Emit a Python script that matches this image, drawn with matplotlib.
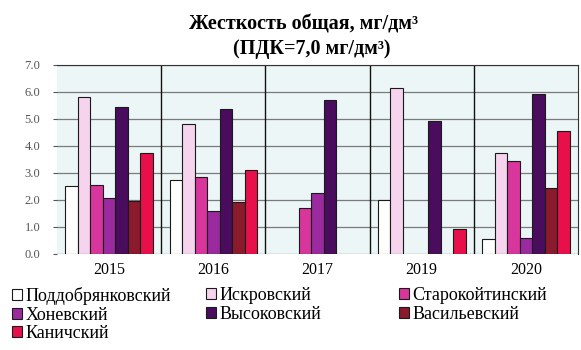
import numpy as np
import matplotlib.pyplot as plt

plt.rcParams['font.family'] = ['Liberation Serif', 'DejaVu Serif']

years = ['2015', '2016', '2017', '2019', '2020']
names = ['Поддобрянковский', 'Искровский', 'Старокойтинский', 'Хоневский',
         'Высоковский', 'Васильевский', 'Каничский']

# жесткость по годам, мг/дм3 (nan - нет данных)
poddobryankovsky = [2.5, 2.75, np.nan, 2.0, 0.55]
iskrovsky = [5.8, 4.8, np.nan, 6.15, 3.75]
starokoitinsky = [2.55, 2.85, 1.7, np.nan, 3.45]
honevsky = [2.05, 1.6, 2.25, np.nan, 0.6]
vysokovsky = [5.45, 5.35, 5.7, 4.9, 5.9]
vasilievsky = [1.95, 1.9, np.nan, np.nan, 2.45]
kanichsky = [3.75, 3.1, np.nan, 0.9, 4.55]

series = [poddobryankovsky, iskrovsky, starokoitinsky, honevsky,
          vysokovsky, vasilievsky, kanichsky]
colors = ['#ffffff', '#f6d4ee', '#d8369c', '#9a2a9e', '#4a0c5c', '#8a1a2c', '#e8104a']

fig = plt.figure(figsize=(5.81, 3.5), dpi=100)
ax = fig.add_axes([0.098, 0.275, 0.897, 0.54])
ax.set_facecolor('#ecf6f7')

x = np.arange(len(years))
w = 0.12
for i, (vals, nm, c) in enumerate(zip(series, names, colors)):
    ax.bar(x + (i - 3) * w, vals, w, color=c, edgecolor='#1a1a1a',
           linewidth=0.8, label=nm, zorder=3)

ax.set_ylim(0, 7)
ax.set_xlim(-0.5, len(years) - 0.5)
ax.set_yticks(np.arange(0, 7.1, 1))
ax.set_yticklabels([f'{v:.1f}' for v in np.arange(0, 7.1, 1)], fontsize=9, color='#555555')
ax.set_xticks(x)
ax.set_xticklabels(years, fontsize=11.5)
ax.tick_params(axis='x', length=0, pad=6)
ax.tick_params(axis='y', length=3, color='#555555', pad=9)
ax.yaxis.grid(True, color='#7a7a7a', linewidth=0.9, zorder=0)
for b in np.arange(0.5, len(years) - 0.5):
    ax.axvline(b, color='#111111', linewidth=1.0, zorder=2)
for s in ['left', 'bottom']:
    ax.spines[s].set_visible(False)
for s in ['top', 'right']:
    ax.spines[s].set_color('#333333')

fig.text(0.523, 0.93, 'Жесткость общая, мг/дм³', ha='center', va='center',
         fontsize=14.5, fontweight='bold')
fig.text(0.537, 0.86, '(ПДК=7,0 мг/дм³)', ha='center', va='center',
         fontsize=14.5, fontweight='bold')

# легенда: три столбца, элементы по строкам
h, l = ax.get_legend_handles_labels()
cols = [([0, 3, 6], 0.02), ([1, 4], 0.355), ([2, 5], 0.687)]
for idx, x0 in cols:
    fig.legend([h[k] for k in idx], [l[k] for k in idx], loc='upper left',
               bbox_to_anchor=(x0, 0.18), frameon=False, fontsize=13,
               handlelength=0.55, handleheight=0.55, handletextpad=0.2,
               labelspacing=0.09, borderaxespad=0.0, borderpad=0.0)

fig.savefig('out.png', dpi=100)
